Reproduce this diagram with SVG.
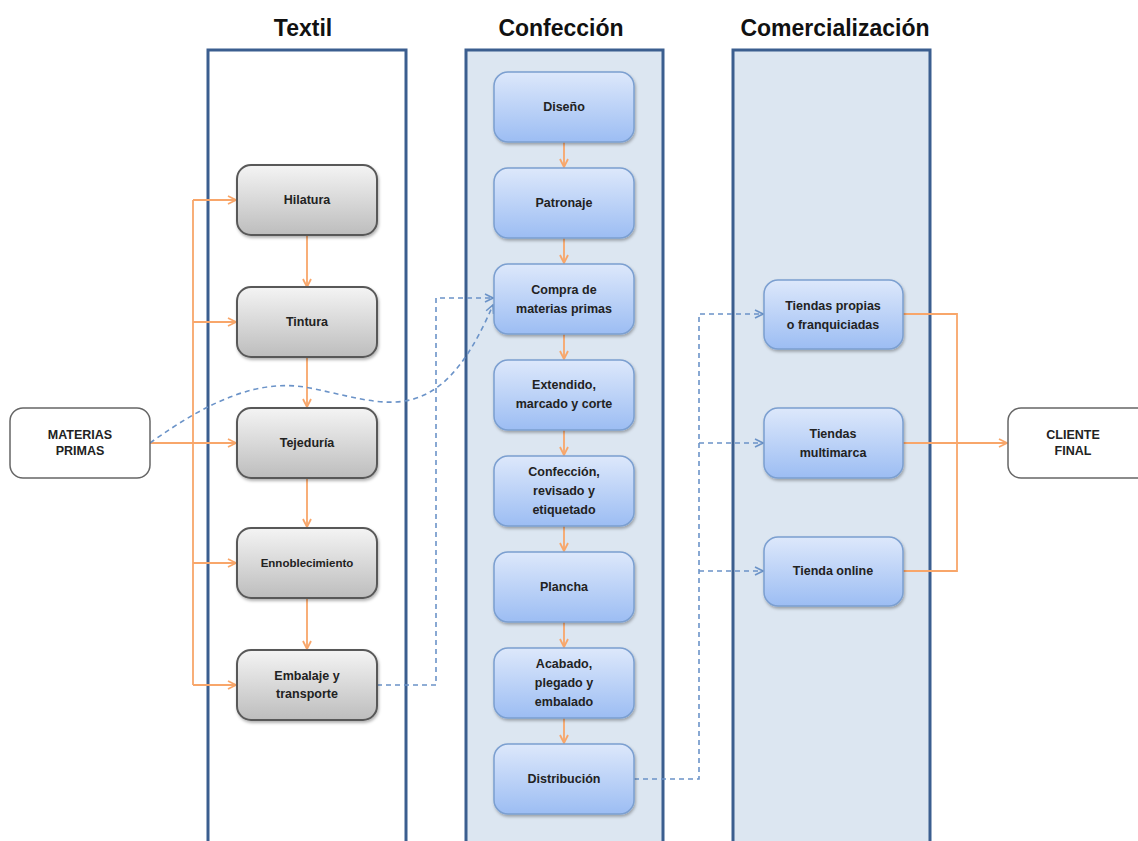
<svg xmlns="http://www.w3.org/2000/svg" width="1138" height="841" viewBox="0 0 1138 841">
<style>
.title{font-family:"Liberation Sans",Arial,sans-serif;font-weight:bold;font-size:23px;fill:#111;text-anchor:middle}
.lbl{font-family:"Liberation Sans",Arial,sans-serif;font-weight:bold;font-size:12.5px;fill:#222;text-anchor:middle}
.panel{stroke:#3b5e8f;stroke-width:3}
.gray{fill:url(#gg);stroke:#595959;stroke-width:2;filter:url(#sh)}
.blue{fill:url(#bg);stroke:#7b9fd0;stroke-width:1.5;filter:url(#sh)}
.white{fill:#fff;stroke:#666;stroke-width:1.5}
.or{fill:none;stroke:#f8a66a;stroke-width:1.8}
.da{fill:none;stroke:#6b93c8;stroke-width:1.6;stroke-dasharray:5 4}
</style>
<defs>
<linearGradient id="gg" x1="0" y1="0" x2="0" y2="1"><stop offset="0" stop-color="#f4f4f4"/><stop offset="1" stop-color="#bdbdbd"/></linearGradient>
<linearGradient id="bg" x1="0" y1="0" x2="0" y2="1"><stop offset="0" stop-color="#dde8fb"/><stop offset="1" stop-color="#9cbdf3"/></linearGradient>
<filter id="sh" x="-10%" y="-10%" width="130%" height="130%"><feDropShadow dx="1" dy="2" stdDeviation="1.5" flood-color="#000" flood-opacity="0.3"/></filter>
<marker id="ao" viewBox="0 0 10 10" refX="9" refY="5" markerWidth="10" markerHeight="10" markerUnits="userSpaceOnUse" orient="auto"><path d="M1,1 L9,5 L1,9" fill="none" stroke="#f8a66a" stroke-width="1.8"/></marker>
<marker id="ab" viewBox="0 0 10 10" refX="9" refY="5" markerWidth="10" markerHeight="10" markerUnits="userSpaceOnUse" orient="auto"><path d="M1,1 L9,5 L1,9" fill="none" stroke="#6b93c8" stroke-width="1.6"/></marker>
</defs>
<rect width="1138" height="841" fill="#fff"/>
<g id="lanes">
<rect class="panel" x="208" y="50" width="198" height="800" fill="#fff"/>
<rect class="panel" x="466" y="50" width="197" height="800" fill="#dce6f1"/>
<rect class="panel" x="733" y="50" width="197" height="800" fill="#dce6f1"/>
<text class="title" x="303" y="36">Textil</text>
<text class="title" x="561" y="36">Confección</text>
<text class="title" x="835" y="36">Comercialización</text>
</g>
<g id="connectors">
<path class="or" d="M150,443 H236" marker-end="url(#ao)"/>
<path class="or" d="M193,200 V685"/>
<path class="or" d="M193,200 H236" marker-end="url(#ao)"/>
<path class="or" d="M193,322 H236" marker-end="url(#ao)"/>
<path class="or" d="M193,563 H236" marker-end="url(#ao)"/>
<path class="or" d="M193,685 H236" marker-end="url(#ao)"/>
<path class="or" d="M307,235 V287" marker-end="url(#ao)"/>
<path class="or" d="M307,357 V407" marker-end="url(#ao)"/>
<path class="or" d="M307,478 V527" marker-end="url(#ao)"/>
<path class="or" d="M307,598 V649" marker-end="url(#ao)"/>
<path class="or" d="M564,142 V167" marker-end="url(#ao)"/>
<path class="or" d="M564,238 V263" marker-end="url(#ao)"/>
<path class="or" d="M564,334 V359" marker-end="url(#ao)"/>
<path class="or" d="M564,430 V455" marker-end="url(#ao)"/>
<path class="or" d="M564,526 V551" marker-end="url(#ao)"/>
<path class="or" d="M564,622 V647" marker-end="url(#ao)"/>
<path class="or" d="M564,718 V743" marker-end="url(#ao)"/>
<path class="or" d="M903,314 H957 V571 H903"/>
<path class="or" d="M903,443 H1007" marker-end="url(#ao)"/>
<path class="da" d="M150,443 C210,400 260,378 310,388 C360,398 395,412 430,392 C460,375 480,335 493,305" marker-end="url(#ab)"/>
<path class="da" d="M377,685 H436 V298 H493" marker-end="url(#ab)"/>
<path class="da" d="M634,779 H699 V314 H763" marker-end="url(#ab)"/>
<path class="da" d="M699,443 H763" marker-end="url(#ab)"/>
<path class="da" d="M699,571 H763" marker-end="url(#ab)"/>
</g>
<g id="materias"><rect class="white" x="10" y="408" width="140" height="70" rx="13"/><text class="lbl" x="80" y="439">MATERIAS</text><text class="lbl" x="80" y="455">PRIMAS</text></g>
<g id="cliente"><rect class="white" x="1008" y="408" width="145" height="70" rx="13"/><text class="lbl" x="1073" y="439">CLIENTE</text><text class="lbl" x="1073" y="455">FINAL</text></g>
<g id="hilatura"><rect class="gray" x="237" y="165" width="140" height="70" rx="14"/><text class="lbl" x="307" y="204">Hilatura</text></g>
<g id="tintura"><rect class="gray" x="237" y="287" width="140" height="70" rx="14"/><text class="lbl" x="307" y="326">Tintura</text></g>
<g id="tejeduria"><rect class="gray" x="237" y="408" width="140" height="70" rx="14"/><text class="lbl" x="307" y="447">Tejeduría</text></g>
<g id="ennoblecimiento"><rect class="gray" x="237" y="528" width="140" height="70" rx="14"/><text class="lbl" x="307" y="567" style="font-size:11.5px">Ennoblecimiento</text></g>
<g id="embalaje"><rect class="gray" x="237" y="650" width="140" height="70" rx="14"/><text class="lbl" x="307" y="680">Embalaje y</text><text class="lbl" x="307" y="698">transporte</text></g>
<g id="diseno"><rect class="blue" x="494" y="72" width="140" height="70" rx="14"/><text class="lbl" x="564" y="111">Diseño</text></g>
<g id="patronaje"><rect class="blue" x="494" y="168" width="140" height="70" rx="14"/><text class="lbl" x="564" y="207">Patronaje</text></g>
<g id="compra"><rect class="blue" x="494" y="264" width="140" height="70" rx="14"/><text class="lbl" x="564" y="294">Compra de</text><text class="lbl" x="564" y="313">materias primas</text></g>
<g id="extendido"><rect class="blue" x="494" y="360" width="140" height="70" rx="14"/><text class="lbl" x="564" y="389">Extendido,</text><text class="lbl" x="564" y="408">marcado y corte</text></g>
<g id="confeccion"><rect class="blue" x="494" y="456" width="140" height="70" rx="14"/><text class="lbl" x="564" y="476">Confección,</text><text class="lbl" x="564" y="495">revisado y</text><text class="lbl" x="564" y="514">etiquetado</text></g>
<g id="plancha"><rect class="blue" x="494" y="552" width="140" height="70" rx="14"/><text class="lbl" x="564" y="591">Plancha</text></g>
<g id="acabado"><rect class="blue" x="494" y="648" width="140" height="70" rx="14"/><text class="lbl" x="564" y="668">Acabado,</text><text class="lbl" x="564" y="687">plegado y</text><text class="lbl" x="564" y="706">embalado</text></g>
<g id="distribucion"><rect class="blue" x="494" y="744" width="140" height="70" rx="14"/><text class="lbl" x="564" y="783">Distribución</text></g>
<g id="propias"><rect class="blue" x="764" y="280" width="139" height="69" rx="14"/><text class="lbl" x="833" y="310">Tiendas propias</text><text class="lbl" x="833" y="329">o franquiciadas</text></g>
<g id="multimarca"><rect class="blue" x="764" y="408" width="139" height="70" rx="14"/><text class="lbl" x="833" y="438">Tiendas</text><text class="lbl" x="833" y="457">multimarca</text></g>
<g id="online"><rect class="blue" x="764" y="537" width="139" height="69" rx="14"/><text class="lbl" x="833" y="575">Tienda online</text></g>
</svg>
